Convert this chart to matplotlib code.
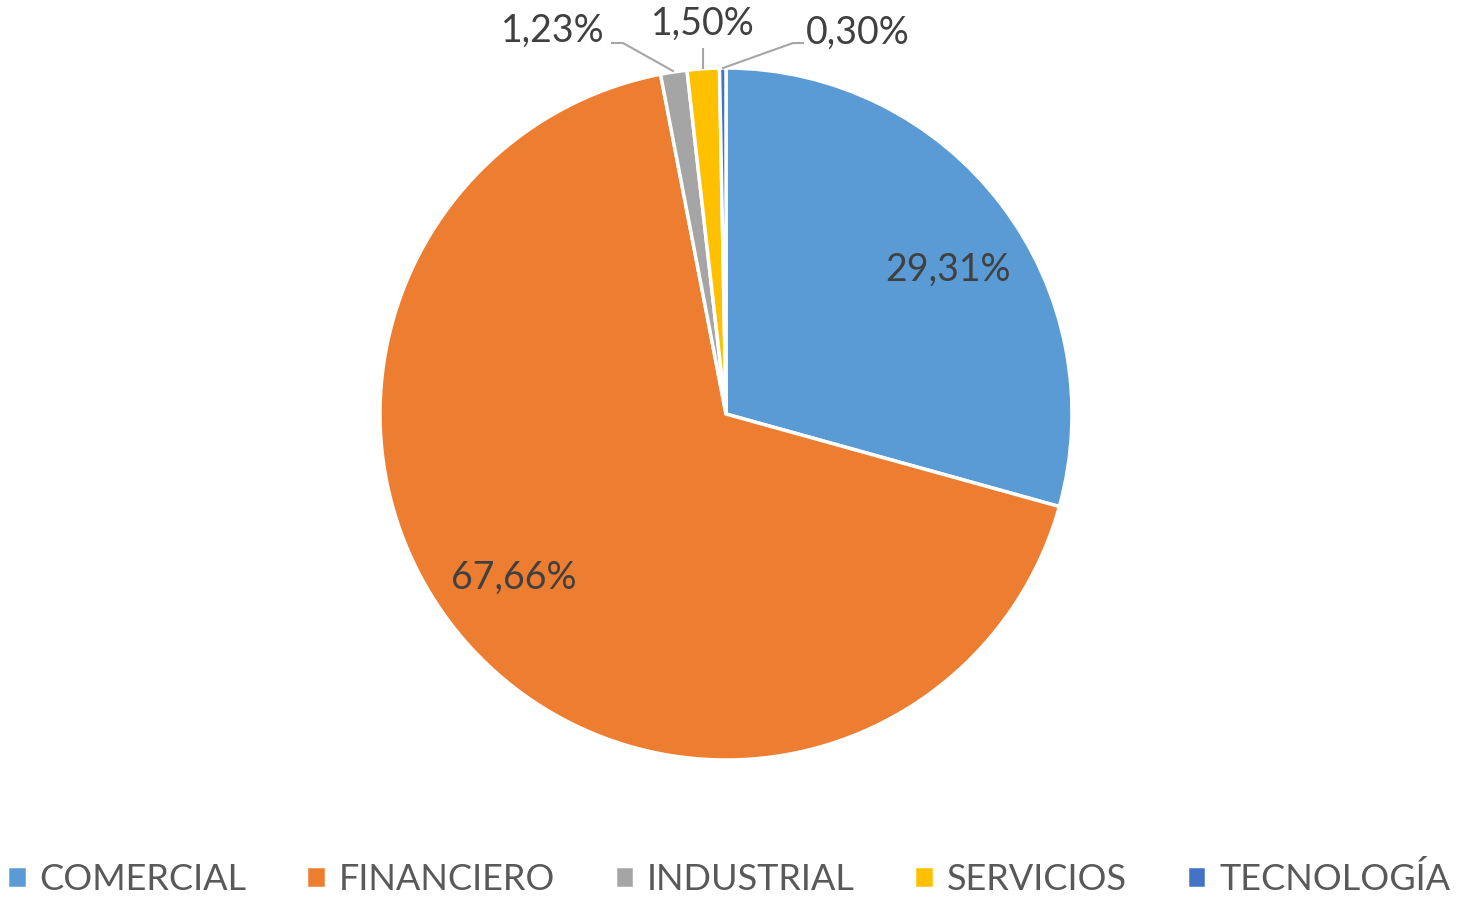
import matplotlib.pyplot as plt

# Donnees
secteurs = ["COMERCIAL", "FINANCIERO", "INDUSTRIAL", "SERVICIOS", "TECNOLOGÍA"]
pourcentages = [29.31, 67.66, 1.23, 1.50, 0.30]
couleurs = ["#5B9BD5", "#ED7D31", "#A5A5A5", "#FFC000", "#4472C4"]

W, H = 1457, 898
CX, CY, R = 726, 414, 346

plt.rcParams['font.family'] = ['Lato', 'DejaVu Sans']


def px(x, y):
    # pixels de l'image -> coordonnees du camembert
    return (x - CX) / R, (CY - y) / R


fig = plt.figure(figsize=(W / 100, H / 100), dpi=100)
ax = fig.add_axes([(CX - R) / W, (H - CY - R) / H, 2 * R / W, 2 * R / H])

wedges, _ = ax.pie(pourcentages, colors=couleurs, startangle=90, counterclock=False,
                   radius=1, wedgeprops=dict(edgecolor="white", linewidth=2.5))
ax.set_xlim(-1, 1)
ax.set_ylim(-1, 1)
ax.set_aspect("equal")
for w in wedges:
    w.set_clip_on(False)

def fmt(v):
    return f"{v:.2f}%".replace(".", ",")

# etiquettes (positions en pixels de la reference)
pos_etiquettes = [(948, 270), (514, 578), (553, 31), (703, 24), (858, 33)]
for v, (x, y) in zip(pourcentages, pos_etiquettes):
    tx, ty = px(x, y)
    ax.text(tx, ty, fmt(v), ha="center", va="center", fontsize=27,
            color="#404040", clip_on=False)

# lignes de rappel
lignes = [
    [(612, 43), (623, 43), (673, 71)],
    [(703, 49), (703, 68)],
    [(803, 43), (793, 43), (723, 68)],
]
for pts in lignes:
    xs, ys = zip(*[px(a, b) for a, b in pts])
    ax.plot(xs, ys, color="#A6A6A6", linewidth=1.5, clip_on=False)

leg = fig.legend(wedges, secteurs, loc="center", bbox_to_anchor=(0.5, 1 - 879 / H),
                 ncol=5, frameon=False, fontsize=26, handlelength=0.55, handleheight=0.55,
                 handletextpad=0.35, columnspacing=1.65, labelcolor="#595959")

fig.savefig("out.png", dpi=100)
